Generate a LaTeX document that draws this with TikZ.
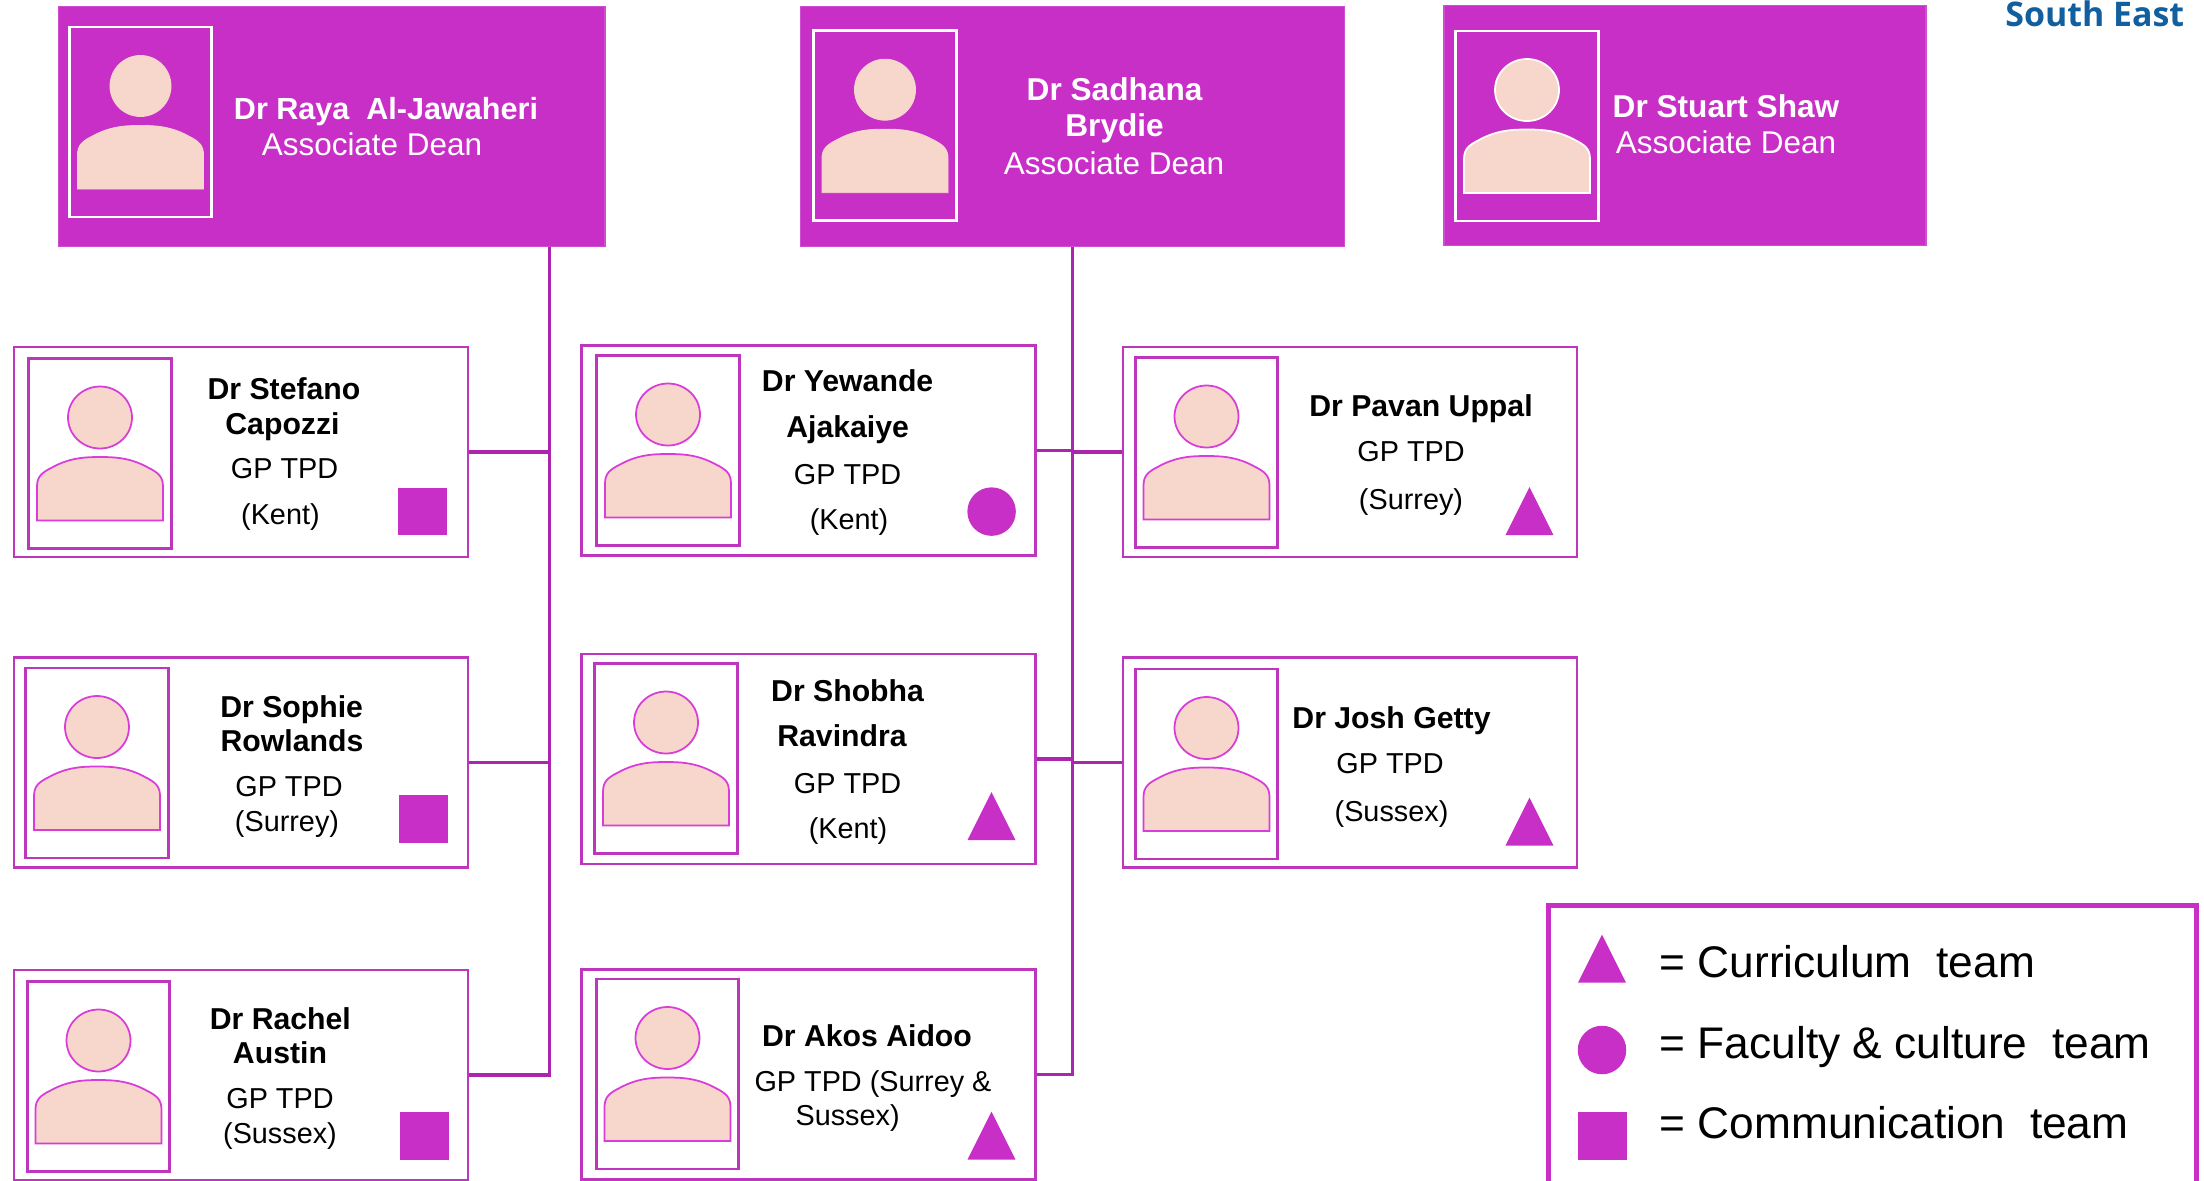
\documentclass[tikz,border=0pt]{standalone}
\usepackage{fontspec}
\setmainfont{Liberation Sans}
\newfontfamily\regionfont{Open Sans}
\usetikzlibrary{shapes.geometric}
\definecolor{magentafill}{HTML}{C72FC7}
\definecolor{magentaline}{HTML}{BE35BE}
\definecolor{magentalink}{HTML}{AC25AE}
\definecolor{faceline}{HTML}{D93CD9}
\definecolor{facefill}{HTML}{F7D6CB}
\definecolor{regionblue}{HTML}{115F9F}
\tikzstyle{headbox}=[rectangle,fill=magentafill,draw=magentafill!85,line width=0.7pt,minimum height=4.8cm,inner sep=0pt]
\tikzstyle{cardbox}=[rectangle,fill=white,draw=magentaline,line width=1.5pt,minimum width=9.08cm,minimum height=4.2cm,inner sep=0pt]
\tikzstyle{photob}=[rectangle,draw=magentaline,line width=1.5pt,minimum width=2.85cm,minimum height=3.8cm,inner sep=0pt]
\tikzstyle{photow}=[photob,draw=white]
\tikzstyle{facem}=[fill=facefill,draw=faceline,line width=1pt]
\tikzstyle{facep}=[fill=facefill,draw=facefill,line width=0.5pt,minimum width=1.22cm,minimum height=1.22cm]
\tikzstyle{facew}=[fill=facefill,draw=white,line width=1pt]
\tikzstyle{linkline}=[draw=magentalink,line width=1.8pt]
\tikzstyle{teamsq}=[rectangle,fill=magentafill,minimum width=0.98cm,minimum height=0.95cm,inner sep=0pt]
\tikzstyle{teamci}=[circle,fill=magentafill,minimum size=0.97cm,inner sep=0pt]
\tikzstyle{teamtr}=[isosceles triangle,isosceles triangle stretches,shape border rotate=90,fill=magentafill,minimum width=0.96cm,minimum height=0.96cm,inner sep=0pt,anchor=south]
\tikzstyle{drname}=[font=\fontsize{17.2}{20}\selectfont\bfseries,text height=0.72em,text depth=0.02em,inner sep=0pt,yshift=-0.085cm]
\tikzstyle{drrole}=[font=\fontsize{16.4}{20}\selectfont,text height=0.72em,text depth=0.02em,inner sep=0pt,yshift=-0.085cm]
\tikzstyle{drnamew}=[drname,text=white,font=\fontsize{18}{22}\selectfont\bfseries]
\tikzstyle{drrolew}=[drrole,text=white,font=\fontsize{17.9}{22}\selectfont]
\tikzstyle{legendtext}=[font=\fontsize{25.2}{30}\selectfont,anchor=west,text height=0.72em,text depth=0.02em,inner sep=0pt,yshift=-0.19cm]
\newcommand{\person}[5]{%
    \node[#4] (#1) at (#2,#3) {};
    \begin{scope}[shift={(#1.center)}]
        \node[ellipse,minimum width=1.28cm,minimum height=1.24cm,inner sep=0pt,#5] (#1head) at (0,-36) {};
        \draw[#5] (-63,67) -- (-63,33) .. controls (-63,23) and (-58,19) .. (-48,14) .. controls (-30,4) and (-14,3.5) .. (0,3.5) .. controls (14,3.5) and (30,4) .. (48,14) .. controls (58,19) and (63,23) .. (63,33) -- (63,67) -- cycle;
    \end{scope}
}
\begin{document}
\begin{tikzpicture}[x=0.02cm,y=-0.02cm]
    \useasboundingbox (0,0) rectangle (2204,1180);
    \coordinate (trunkl) at (549.4,1075);
    \coordinate (trunkr) at (1072.5,1075);

    \node[headbox,minimum width=10.93cm] (raya) at (331.7,126.5) {};
    \node[headbox,minimum width=10.88cm] (sadhana) at (1072.5,126.5) {};
    \node[headbox,minimum width=9.64cm] (stuart) at (1685,125.5) {};

    \node[cardbox] (stefano) at (241,452) {};
    \node[cardbox] (sophie) at (241,762.7) {};
    \node[cardbox] (rachel) at (241,1075) {};
    \node[cardbox] (yewande) at (808.5,450.3) {};
    \node[cardbox] (shobha) at (808.5,759) {};
    \node[cardbox] (akos) at (808.5,1074.5) {};
    \node[cardbox] (pavan) at (1350,452) {};
    \node[cardbox] (josh) at (1350,762.5) {};

    \draw[linkline] (raya.south -| trunkl) -- (rachel.east -| trunkl) -- (rachel.east);
    \draw[linkline] (sadhana.south -| trunkr) -- (akos.east -| trunkr) -- (akos.east);
    \foreach \from/\to in {stefano.east/trunkl,sophie.east/trunkl,yewande.east/trunkr,shobha.east/trunkr,pavan.west/trunkr,josh.west/trunkr}
    \draw[linkline] (\from) -- (\from -| \to);

    \person{rayaphoto}{140.5}{122}{photow}{facep}
    \person{sadhanaphoto}{885}{125.7}{photow}{facep}
    \person{stuartphoto}{1527}{126}{photow}{facew}
    \person{stefanophoto}{100}{453.5}{photob}{facem}
    \person{sophiephoto}{97}{763}{photob}{facem}
    \person{rachelphoto}{98.5}{1076.5}{photob}{facem}
    \person{yewandephoto}{668}{450.5}{photob}{facem}
    \person{shobhaphoto}{666}{758.5}{photob}{facem}
    \person{akosphoto}{667.5}{1074}{photob}{facem}
    \person{pavanphoto}{1206.5}{452.5}{photob}{facem}
    \person{joshphoto}{1206.5}{764}{photob}{facem}

    \node[drnamew,font=\fontsize{17.4}{22}\selectfont\bfseries] (rayaname) at (386,109) {Dr Raya\ \ Al-Jawaheri};
    \node[drrolew] (rayarole) at (372,145) {Associate Dean};
    \node[drnamew] (sadhananame) at (1114.6,90) {Dr Sadhana};
    \node[drnamew] (sadhananameb) at (1114.6,126.5) {Brydie};
    \node[drrolew] (sadhanarole) at (1114,164.5) {Associate Dean};
    \node[drnamew] (stuartname) at (1726,107) {Dr Stuart Shaw};
    \node[drrolew] (stuartrole) at (1726,143) {Associate Dean};

    \node[drname] (stefanoname) at (284,389.3) {Dr Stefano};
    \node[drname] (stefanonameb) at (282.5,424.5) {Capozzi};
    \node[drrole] (stefanorole) at (284.6,468) {GP TPD};
    \node[drrole] (stefanoarea) at (280.4,514.5) {(Kent)};

    \node[drname] (sophiename) at (291.7,707) {Dr Sophie};
    \node[drname] (sophienameb) at (292,741) {Rowlands};
    \node[drrole] (sophierole) at (289,786) {GP TPD};
    \node[drrole] (sophiearea) at (287,821) {(Surrey)};

    \node[drname] (rachelname) at (280.4,1019) {Dr Rachel};
    \node[drname] (rachelnameb) at (280,1053) {Austin};
    \node[drrole] (rachelrole) at (280,1098) {GP TPD};
    \node[drrole] (rachelarea) at (280,1133) {(Sussex)};

    \node[drname] (yewandename) at (847.6,381) {Dr Yewande};
    \node[drname] (yewandenameb) at (847.6,427) {Ajakaiye};
    \node[drrole] (yewanderole) at (847.6,473.7) {GP TPD};
    \node[drrole] (yewandearea) at (849,518.7) {(Kent)};

    \node[drname] (shobhaname) at (847.6,691.5) {Dr Shobha};
    \node[drname] (shobhanameb) at (842,736.5) {Ravindra};
    \node[drrole] (shobharole) at (847.6,783) {GP TPD};
    \node[drrole] (shobhaarea) at (848,828) {(Kent)};

    \node[drname] (akosname) at (867,1036) {Dr Akos Aidoo};
    \node[drrole] (akosrole) at (873,1081) {GP TPD (Surrey \&};
    \node[drrole] (akosarea) at (847.6,1115) {Sussex)};

    \node[drname] (pavanname) at (1421,406) {Dr Pavan Uppal};
    \node[drrole] (pavanrole) at (1411,451) {GP TPD};
    \node[drrole] (pavanarea) at (1411,499) {(Surrey)};

    \node[drname] (joshname) at (1391.5,718) {Dr Josh Getty};
    \node[drrole] (joshrole) at (1390,763) {GP TPD};
    \node[drrole] (josharea) at (1391.5,811) {(Sussex)};

    \node[teamsq] (stefanoteam) at (422.7,511.5) {};
    \node[teamsq] (sophieteam) at (423,818.8) {};
    \node[teamsq] (rachelteam) at (424,1136) {};
    \node[teamci] (yewandeteam) at (991.6,511.6) {};
    \node[teamtr] (shobhateam) at (991.5,840.5) {};
    \node[teamtr] (akosteam) at (991.5,1160) {};
    \node[teamtr] (pavanteam) at (1529.5,535.5) {};
    \node[teamtr] (joshteam) at (1529.5,846) {};

    \node[anchor=base west,inner sep=0pt,text=regionblue,font=\fontsize{19.3}{23}\selectfont\regionfont\bfseries] (region) at (2005,26) {South East};

    \node[rectangle,fill=white,draw=magentafill,line width=2.8pt,minimum width=12.97cm,minimum height=6.2cm,inner sep=0pt] (legend) at (1872.7,1060) {};
    \node[teamtr] (legendtr) at (1602,983) {};
    \node[teamci] (legendci) at (1602,1050) {};
    \node[teamsq] (legendsq) at (1602,1136) {};
    \node[legendtext] (legendcurr) at (1659.4,961.7) {= Curriculum\ \ team};
    \node[legendtext] (legendfac) at (1659.4,1043) {= Faculty \& culture\ \ team};
    \node[legendtext] (legendcom) at (1659.4,1123) {= Communication\ \ team};
\end{tikzpicture}
\end{document}
